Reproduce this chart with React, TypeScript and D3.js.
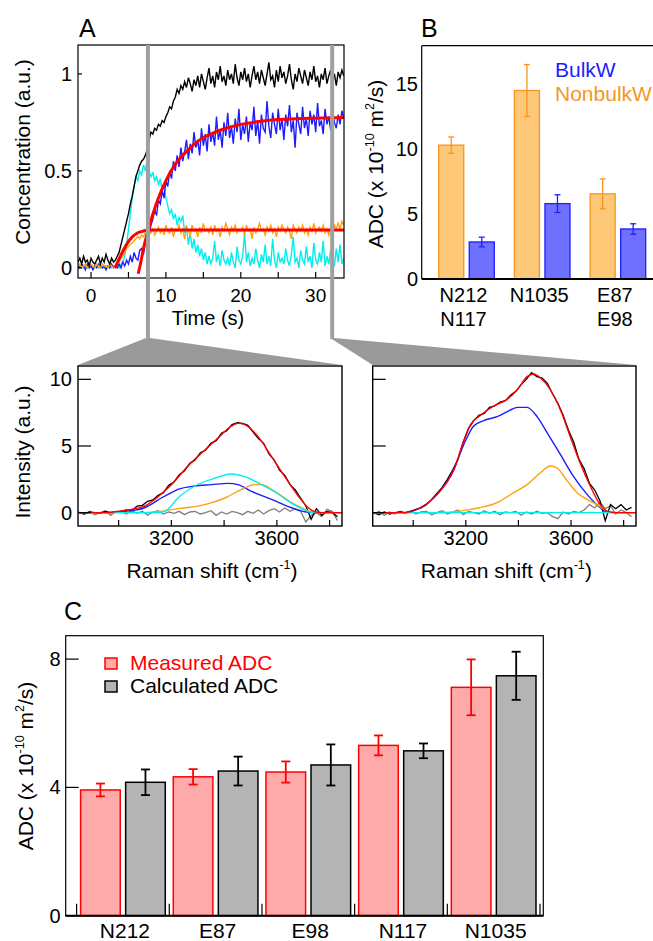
import React, { useEffect, useRef } from 'react';
import * as d3 from 'd3';

const FONT = 'Liberation Sans, Arial, Helvetica, sans-serif';

// ---------- A: concentration time courses (sampled every 0.25 s from -1.75 s)
const TIME_START = -1.75;
const TIME_STEP = 0.25;
const totalConc = [
  0.03, 0.05, 0.02, 0.06, 0.03, 0.04, 0.01, 0.05, 0.03, 0.02,
  0.04, 0.06, 0.02, 0.05, 0.03, 0.07, 0.04, 0.02, 0.05, 0.03,
  0.04, 0.06, 0.08, 0.12, 0.16, 0.2, 0.24, 0.28, 0.33, 0.37,
  0.42, 0.47, 0.5, 0.53, 0.55, 0.56, 0.58, 0.61, 0.66, 0.7,
  0.69, 0.72, 0.71, 0.74, 0.73, 0.76, 0.75, 0.78, 0.8, 0.83,
  0.82, 0.86, 0.88, 0.92, 0.9, 0.94, 0.92, 0.96, 0.93, 0.98,
  0.95, 0.91, 0.97, 0.94, 0.99, 0.93, 1.0, 0.96, 0.92, 0.98,
  1.03, 0.95, 0.99, 0.93, 1.01, 0.97, 1.04, 0.96, 0.99, 0.94,
  1.02, 0.97, 1.0, 0.95, 1.05, 0.98, 0.94, 1.01, 0.97, 1.03,
  0.96, 1.0, 0.93, 0.99, 1.04, 0.97, 1.01, 0.95, 1.02, 0.98,
  0.94, 1.0, 1.06, 0.97, 0.99, 0.93, 1.02, 0.96, 1.04, 0.98,
  1.01, 0.95, 0.99, 1.05, 0.97, 0.92, 1.0, 0.96, 1.03, 0.99,
  0.95, 1.02, 0.98, 0.94, 1.01, 0.97, 1.04, 0.96, 0.99, 0.93,
  1.0, 0.97, 1.03, 0.95, 0.99, 1.02, 0.96, 1.0, 0.94, 1.01,
  0.98, 1.02, 0.99
];
const bulkConc = [
  0.01, 0.0, 0.02, 0.01, -0.01, 0.02, 0.0, 0.01, -0.01, 0.01,
  0.0, 0.02, 0.01, 0.0, 0.01, -0.01, 0.01, 0.0, 0.02, 0.0,
  0.01, 0.0, 0.02, 0.0, 0.03, 0.01, 0.04, 0.02, 0.06, 0.03,
  0.08, 0.05, 0.04, 0.09, 0.1, 0.07, 0.13, 0.12, 0.17, 0.22,
  0.25, 0.3, 0.27, 0.35, 0.33, 0.4, 0.36, 0.45, 0.42, 0.5,
  0.46, 0.55, 0.5, 0.58, 0.52, 0.62, 0.55, 0.6, 0.66, 0.56,
  0.64, 0.59, 0.7, 0.62, 0.66, 0.58, 0.72, 0.63, 0.69, 0.6,
  0.74, 0.65, 0.7, 0.63, 0.78, 0.66, 0.71, 0.62, 0.75, 0.68,
  0.8, 0.67, 0.73, 0.64, 0.77, 0.7, 0.82, 0.66, 0.74, 0.69,
  0.78, 0.65, 0.75, 0.71, 0.83, 0.68, 0.76, 0.64, 0.79, 0.72,
  0.7, 0.86, 0.73, 0.67, 0.8, 0.74, 0.69, 0.82, 0.71, 0.77,
  0.66, 0.79, 0.73, 0.84, 0.7, 0.76, 0.62, 0.8, 0.74, 0.69,
  0.83, 0.72, 0.77, 0.68, 0.81, 0.74, 0.79, 0.7, 0.85, 0.73,
  0.76, 0.69, 0.82, 0.74, 0.78, 0.71, 0.8, 0.75, 0.72, 0.79,
  0.74, 0.81, 0.77
];
const transientConc = [
  0.0, 0.01, 0.0, 0.0, 0.01, 0.0, 0.0, 0.01, 0.0, 0.0,
  0.01, 0.0, 0.0, 0.01, 0.0, 0.0, 0.01, 0.0, 0.0, 0.01,
  0.0, 0.01, 0.0, 0.02, 0.03, 0.06, 0.12, 0.2, 0.28, 0.36,
  0.42, 0.47, 0.45, 0.5, 0.48, 0.53, 0.5, 0.56, 0.5, 0.47,
  0.49, 0.45, 0.47, 0.43, 0.46, 0.4, 0.42, 0.36, 0.32, 0.28,
  0.3, 0.25, 0.28, 0.22, 0.26, 0.24, 0.27, 0.18, 0.22, 0.12,
  0.18, 0.1, 0.15, 0.08, 0.12, 0.06, 0.1, 0.04, 0.08, 0.02,
  0.06, 0.02, 0.05, 0.14, 0.03, 0.07, 0.01, 0.09, 0.04, 0.02,
  0.05, 0.01, 0.08, 0.03, 0.0, 0.11, 0.04, 0.02, 0.06, 0.18,
  0.03, 0.08, 0.01, 0.05, 0.02, 0.1, 0.04, 0.0, 0.07, 0.03,
  0.12, 0.02, 0.06, 0.01, 0.15, 0.04, 0.0, 0.08, 0.03, 0.05,
  0.02, 0.1, 0.04, 0.01, 0.07, 0.16, 0.03, 0.05, 0.0, 0.09,
  0.04, 0.02, 0.11, 0.03, 0.06, 0.0, 0.13, 0.04, 0.02, 0.08,
  0.03, 0.14, 0.01, 0.06, 0.02, 0.09, 0.04, 0.01, 0.1, 0.03,
  0.12, 0.02, 0.05
];
const nonbulkConc = [
  0.01, 0.02, 0.0, 0.01, 0.02, 0.0, 0.01, 0.02, 0.01, 0.0,
  0.02, 0.01, 0.0, 0.02, 0.01, 0.01, 0.0, 0.02, 0.01, 0.0,
  0.01, 0.02, 0.03, 0.05, 0.06, 0.08, 0.1, 0.11, 0.12, 0.13,
  0.14, 0.15, 0.16, 0.15, 0.17, 0.16, 0.18, 0.17, 0.19, 0.18,
  0.2, 0.17, 0.19, 0.21, 0.18, 0.2, 0.17, 0.22, 0.19, 0.18,
  0.21, 0.16, 0.2, 0.19, 0.22, 0.18, 0.2, 0.15, 0.21, 0.19,
  0.17, 0.22, 0.19, 0.2, 0.16, 0.21, 0.18, 0.23, 0.19, 0.2,
  0.18, 0.21, 0.17, 0.22, 0.19, 0.2, 0.16, 0.21, 0.19, 0.23,
  0.2, 0.17, 0.21, 0.19, 0.22, 0.18, 0.2, 0.19, 0.21, 0.17,
  0.22, 0.19, 0.2, 0.15, 0.21, 0.18, 0.2, 0.23, 0.19, 0.2,
  0.17, 0.21, 0.19, 0.22, 0.18, 0.2, 0.16, 0.21, 0.19, 0.22,
  0.2, 0.18, 0.21, 0.19, 0.15, 0.22, 0.2, 0.18, 0.21, 0.19,
  0.22, 0.18, 0.2, 0.17, 0.21, 0.19, 0.23, 0.18, 0.2, 0.21,
  0.19, 0.22, 0.18, 0.2, 0.17, 0.21, 0.19, 0.22, 0.2, 0.23,
  0.2, 0.24, 0.22
];
// fitted curves [time, conc]
const bulkFit = [
  [6.3, -0.03], [6.6, 0.02], [7.0, 0.1], [7.6, 0.19], [8.2, 0.27], [9, 0.36],
  [10, 0.45], [11, 0.52], [12, 0.57], [13, 0.61], [14.5, 0.66], [16, 0.69],
  [18, 0.72], [20, 0.74], [22.5, 0.755], [25, 0.765], [28, 0.77], [31, 0.773], [33.8, 0.775]
];
const nonbulkFit = [
  [3.2, 0.0], [3.8, 0.05], [4.3, 0.09], [4.9, 0.13], [5.5, 0.16], [6.2, 0.18],
  [7.0, 0.19], [7.6, 0.195], [12, 0.195], [20, 0.195], [33.8, 0.195]
];
// times at which the two spectra below were taken
const spectrumTimes = [7.6, 32.2];

// ---------- B: ADC of water types
const groupLabels = [['N212', 'N117'], ['N1035'], ['E87', 'E98']];
const nonbulkADC = [10.3, 14.5, 6.55];
const nonbulkErr = [0.63, 2.0, 1.15];
const bulkADC = [2.85, 5.8, 3.85];
const bulkErr = [0.37, 0.68, 0.4];

// ---------- Raman spectra (raw & residual every 20 cm-1 from 2850)
const SHIFT_START = 2850;
const SHIFT_STEP = 20;
const spec1Raw = [
  0.0, -0.1, 0.05, 0.0, -0.05, 0.1, 0.0, 0.05, 0.1, 0.2,
  0.15, 0.5, 0.55, 0.85, 0.95, 1.3, 1.5, 2.05, 2.3, 2.85,
  3.15, 3.7, 3.95, 4.5, 4.7, 5.2, 5.4, 5.95, 6.15, 6.6,
  6.75, 6.7, 6.55, 6.05, 5.55, 5.2, 4.4, 3.95, 3.2, 2.8,
  2.1, 1.7, 1.1, 0.5, -0.5, 0.3, -0.2, 0.1, 0.0, -0.3
];
const spec1Resid = [
  0.05, -0.1, 0.1, -0.15, 0.0, 0.15, -0.2, 0.1, 0.05, -0.1,
  0.15, -0.05, 0.1, -0.2, 0.05, 0.15, -0.1, 0.05, -0.05, 0.1,
  -0.15, 0.05, 0.1, -0.1, 0.0, 0.15, -0.2, 0.05, -0.1, 0.1,
  0.0, -0.15, 0.1, -0.05, 0.2, -0.1, 0.15, 0.3, 0.05, 0.35,
  0.1, 0.3, 0.1, -0.7, -0.2, 0.0, -0.3, 0.25, 0.1, -0.6
];
const spec1Fit = [
  [2850, 0], [2950, 0], [2990, 0.08], [3030, 0.18], [3070, 0.33], [3100, 0.5],
  [3137, 1.0], [3170, 1.55], [3200, 2.1], [3263, 3.5], [3327, 4.7], [3377, 5.6],
  [3428, 6.5], [3453, 6.7], [3478, 6.6], [3529, 5.7], [3580, 4.2], [3630, 2.7],
  [3681, 1.25], [3719, 0.37], [3744, 0.07], [3770, 0], [3847, 0]
];
const spec1Bulk = [
  [2850, 0], [2950, 0], [2997, 0.05], [3050, 0.15], [3099, 0.37], [3130, 0.7],
  [3162, 1.1], [3195, 1.45], [3225, 1.74], [3289, 2.0], [3352, 2.1], [3415, 2.2],
  [3453, 2.1], [3504, 1.6], [3580, 1.0], [3656, 0.37], [3706, 0.07], [3750, 0], [3847, 0]
];
const spec1Transient = [
  [2850, 0], [3150, 0], [3162, 0.02], [3187, 0.25], [3225, 1.1], [3289, 2.0],
  [3352, 2.5], [3428, 2.9], [3478, 2.7], [3542, 2.1], [3605, 1.4], [3656, 0.7],
  [3706, 0.2], [3732, 0.02], [3847, 0]
];
const spec1Nonbulk = [
  [2850, 0], [3099, 0], [3160, 0.1], [3225, 0.3], [3327, 0.6], [3403, 1.1],
  [3466, 1.74], [3516, 2.1], [3542, 2.1], [3592, 1.6], [3656, 0.75], [3706, 0.25],
  [3757, 0], [3847, 0]
];
const spec2Raw = [
  0.0, -0.15, 0.05, -0.1, 0.0, 0.05, 0.0, 0.1, 0.25, 0.35,
  0.6, 1.0, 1.45, 1.9, 2.5, 3.2, 4.0, 5.3, 6.3, 6.9,
  7.3, 7.45, 7.9, 8.0, 8.3, 8.4, 8.8, 9.1, 9.6, 10.0,
  10.5, 10.2, 10.1, 9.7, 8.9, 8.2, 7.3, 6.2, 5.3, 4.0,
  3.3, 2.2, 1.7, 0.9, -0.6, 0.6, 0.3, 0.6, 0.2, 0.4
];
const spec2Resid = [
  -0.1, 0.1, -0.2, 0.05, -0.1, 0.1, -0.05, 0.15, -0.1, 0.05,
  0.1, -0.15, 0.0, 0.15, -0.1, 0.05, 0.2, -0.15, 0.1, 0.0,
  -0.1, 0.15, -0.05, 0.1, -0.15, 0.05, 0.0, 0.1, -0.2, 0.05,
  -0.1, 0.1, -0.05, 0.0, -0.3, -0.45, 0.05, -0.1, 0.1, 0.0,
  0.2, 0.6, 0.35, 0.8, 0.3, 0.5, -0.1, 0.2, 0.0, -0.3
];
const spec2Fit = [
  [2850, 0], [2965, 0], [3028, 0.37], [3091, 1.37], [3154, 3.2], [3192, 5.35],
  [3218, 6.6], [3256, 7.3], [3306, 8.0], [3357, 8.5], [3395, 9.2], [3433, 10.2],
  [3458, 10.4], [3484, 10.1], [3522, 9.2], [3560, 7.7], [3597, 5.7], [3635, 3.7],
  [3673, 2.0], [3711, 0.6], [3737, 0.12], [3775, 0], [3847, 0]
];
const spec2Bulk = [
  [2850, 0], [2965, 0], [3028, 0.37], [3091, 1.37], [3154, 3.2], [3192, 5.1],
  [3230, 6.5], [3268, 6.9], [3319, 7.2], [3370, 7.7], [3395, 7.9], [3433, 7.9],
  [3471, 7.2], [3509, 6.0], [3560, 4.35], [3610, 2.7], [3661, 1.37], [3711, 0.37],
  [3737, 0.05], [3775, 0], [3847, 0]
];
const spec2Transient = [[2850, 0], [3847, 0]];
const spec2Nonbulk = [
  [2850, 0], [3091, 0], [3218, 0.25], [3319, 0.75], [3382, 1.5], [3433, 2.1],
  [3484, 3.0], [3522, 3.5], [3547, 3.35], [3585, 2.4], [3623, 1.5], [3661, 1.0],
  [3699, 0.6], [3737, 0.12], [3775, 0], [3847, 0]
];

// ---------- C: measured vs calculated ADC
const residues = ['N212', 'E87', 'E98', 'N117', 'N1035'];
const measuredADC = [3.92, 4.33, 4.48, 5.31, 7.12];
const measuredErr = [0.2, 0.24, 0.33, 0.31, 0.87];
const calculatedADC = [4.16, 4.51, 4.7, 5.14, 7.48];
const calculatedErr = [0.4, 0.45, 0.64, 0.23, 0.75];

const C_BLACK = '#000000';
const C_BLUE = '#1c1cff';
const C_CYAN = '#00eeee';
const C_ORANGE = '#ffa10a';
const C_RED = '#ff0000';
const C_GRAY_CUT = '#a0a0a0';

// text with superscript pieces: parts = [[text, isSup], ...]
function richText(sel, parts, size) {
  let prevSup = false;
  parts.forEach(([txt, sup]) => {
    const ts = sel.append('tspan').text(txt);
    if (sup) ts.style('font-size', (size * 0.6) + 'px');
    if (sup !== prevSup) ts.attr('dy', sup ? -size * 0.42 : size * 0.42);
    prevSup = sup;
  });
}

function label(svg, x, y, txt, size, anchor = 'middle', color = '#000') {
  return svg.append('text')
    .attr('x', x).attr('y', y)
    .attr('text-anchor', anchor)
    .style('font-size', size + 'px')
    .attr('fill', color)
    .text(txt);
}

function yTitle(svg, x, y, parts, size) {
  const t = svg.append('text')
    .attr('transform', 'translate(' + x + ',' + y + ') rotate(-90)')
    .attr('text-anchor', 'middle')
    .style('font-size', size + 'px');
  richText(t, parts, size);
}

function drawTimeCourse(svg) {
  const L = 78, R = 344, T = 45, B = 278;
  const x = d3.scaleLinear().domain([-1.74, 33.78]).range([L, R]);
  const y = d3.scaleLinear().domain([-0.052, 1.149]).range([B, T]);

  svg.append('clipPath').attr('id', 'clipA')
    .append('rect').attr('x', L).attr('y', T).attr('width', R - L).attr('height', B - T);
  const plot = svg.append('g').attr('clip-path', 'url(#clipA)');

  const trace = d3.line().x((d, i) => x(TIME_START + i * TIME_STEP)).y(d => y(d));
  const traces = [
    [transientConc, C_CYAN],
    [bulkConc, C_BLUE],
    [nonbulkConc, C_ORANGE],
    [totalConc, C_BLACK]
  ];
  traces.forEach(([data, color]) => {
    plot.append('path').datum(data)
      .attr('d', trace)
      .attr('fill', 'none')
      .attr('stroke', color)
      .attr('stroke-width', 1.4);
  });
  const fit = d3.line().x(d => x(d[0])).y(d => y(d[1])).curve(d3.curveMonotoneX);
  [bulkFit, nonbulkFit].forEach(data => {
    plot.append('path').datum(data)
      .attr('d', fit)
      .attr('fill', 'none')
      .attr('stroke', C_RED)
      .attr('stroke-width', 3);
  });

  svg.append('rect').attr('x', L).attr('y', T).attr('width', R - L).attr('height', B - T)
    .attr('fill', 'none').attr('stroke', '#000').attr('stroke-width', 1.2);

  d3.range(0, 31, 5).forEach(t => {
    svg.append('line').attr('x1', x(t)).attr('x2', x(t)).attr('y1', B).attr('y2', B - 6)
      .attr('stroke', '#000').attr('stroke-width', 1.2);
  });
  [0, 10, 20, 30].forEach(t => label(svg, x(t), 302, String(t), 19));
  [0, 0.5, 1].forEach(v => {
    svg.append('line').attr('x1', L).attr('x2', L + 4).attr('y1', y(v)).attr('y2', y(v))
      .attr('stroke', '#000').attr('stroke-width', 1.2);
    label(svg, 72, y(v) + 7, String(v), 20, 'end');
  });
  label(svg, 208, 325, 'Time (s)', 20);
  yTitle(svg, 30, 152, [['Concentration (a.u.)', false]], 21);
  label(svg, 79, 37, 'A', 25, 'start');
  return x;
}

function drawWaterADC(svg) {
  const L = 421.7, T = 45.7, B = 279;
  const y = d3.scaleLinear().domain([0, 17.95]).range([B, T]);
  const x0 = d3.scaleBand().domain(d3.range(groupLabels.length)).range([438.7, 645.7]).paddingInner(0.266);
  const x1 = d3.scaleBand().domain(['nonbulk', 'bulk']).range([0, x0.bandwidth()]).paddingInner(0.18);

  svg.append('line').attr('x1', L).attr('x2', 660).attr('y1', T).attr('y2', T)
    .attr('stroke', '#000').attr('stroke-width', 1.2);
  svg.append('line').attr('x1', L).attr('x2', L).attr('y1', T).attr('y2', B)
    .attr('stroke', '#000').attr('stroke-width', 1.2);

  const series = [
    { key: 'nonbulk', vals: nonbulkADC, errs: nonbulkErr, fill: '#ffc878', stroke: '#f5961e' },
    { key: 'bulk', vals: bulkADC, errs: bulkErr, fill: '#7070ff', stroke: '#1e1eff' }
  ];
  series.forEach(s => {
    const g = svg.append('g');
    g.selectAll('rect').data(s.vals).enter().append('rect')
      .attr('x', (d, i) => x0(i) + x1(s.key))
      .attr('y', d => y(d))
      .attr('width', x1.bandwidth())
      .attr('height', d => B - y(d))
      .attr('fill', s.fill)
      .attr('stroke', s.stroke)
      .attr('stroke-width', 1.3);
    s.vals.forEach((v, i) => {
      const cx = x0(i) + x1(s.key) + x1.bandwidth() / 2;
      const e = s.errs[i];
      g.append('line').attr('x1', cx).attr('x2', cx).attr('y1', y(v - e)).attr('y2', y(v + e))
        .attr('stroke', s.stroke).attr('stroke-width', 1.3);
      [v - e, v + e].forEach(c => {
        g.append('line').attr('x1', cx - 3).attr('x2', cx + 3).attr('y1', y(c)).attr('y2', y(c))
          .attr('stroke', s.stroke).attr('stroke-width', 1.3);
      });
    });
  });
  svg.append('line').attr('x1', L).attr('x2', 660).attr('y1', B).attr('y2', B)
    .attr('stroke', '#000').attr('stroke-width', 2);

  [0, 5, 10, 15].forEach(v => label(svg, 418, y(v) + 7, String(v), 20, 'end'));
  groupLabels.forEach((lines, i) => {
    const cx = x0(i) + x0.bandwidth() / 2 - 3;
    lines.forEach((t, j) => label(svg, cx, 302 + j * 23.5, t, 20));
  });
  label(svg, 555, 77, 'BulkW', 21, 'start', '#1e1eff');
  label(svg, 555, 101, 'NonbulkW', 21, 'start', '#f5961e');
  yTitle(svg, 383, 164, [['ADC (x 10', false], ['-10', true], [' m', false], ['2', true], ['/s)', false]], 21);
  label(svg, 421, 37, 'B', 25, 'start');
}

function drawSpectrum(svg, id, L, R, raw, resid, fitC, bulkC, transC, nonbulkC, showY) {
  const T = 366, B = 526;
  const x = d3.scaleLinear().domain([2846, 3847]).range([L, R]);
  const y = d3.scaleLinear().domain([-1, 11]).range([B, T]);

  svg.append('clipPath').attr('id', id)
    .append('rect').attr('x', L).attr('y', T).attr('width', R - L).attr('height', B - T);
  const plot = svg.append('g').attr('clip-path', 'url(#' + id + ')');

  const sampled = d3.line().x((d, i) => x(SHIFT_START + i * SHIFT_STEP)).y(d => y(d));
  const smooth = d3.line().x(d => x(d[0])).y(d => y(d[1])).curve(d3.curveMonotoneX);

  plot.append('path').datum(resid).attr('d', sampled)
    .attr('fill', 'none').attr('stroke', '#808080').attr('stroke-width', 1.3);
  plot.append('path').datum(raw).attr('d', sampled)
    .attr('fill', 'none').attr('stroke', C_BLACK).attr('stroke-width', 1.3);
  [[bulkC, C_BLUE], [nonbulkC, C_ORANGE], [transC, C_CYAN], [fitC, C_RED]].forEach(([data, color]) => {
    plot.append('path').datum(data).attr('d', smooth)
      .attr('fill', 'none').attr('stroke', color).attr('stroke-width', 1.4);
  });

  svg.append('rect').attr('x', L).attr('y', T).attr('width', R - L).attr('height', B - T)
    .attr('fill', 'none').attr('stroke', '#000').attr('stroke-width', 1.4);

  [0, 5, 10].forEach(v => {
    svg.append('line').attr('x1', L).attr('x2', L + 13).attr('y1', y(v)).attr('y2', y(v))
      .attr('stroke', '#000').attr('stroke-width', 1.2);
    if (showY) label(svg, 72, y(v) + 7, String(v), 20, 'end');
  });
  d3.range(3000, 3801, 200).forEach(v => {
    svg.append('line').attr('x1', x(v)).attr('x2', x(v)).attr('y1', B).attr('y2', B - 6)
      .attr('stroke', '#000').attr('stroke-width', 1.2);
  });
  [3200, 3600].forEach(v => label(svg, x(v), 545, String(v), 20));
  const t = svg.append('text')
    .attr('x', (L + R) / 2 + 2).attr('y', 578)
    .attr('text-anchor', 'middle')
    .style('font-size', '21px');
  richText(t, [['Raman shift (cm', false], ['-1', true], [')', false]], 21);
  if (showY) yTitle(svg, 30, 452, [['Intensity (a.u.)', false]], 21);
  return { L, R, T };
}

function drawADCComparison(svg) {
  const L = 65.7, R = 543.3, T = 635.7, B = 915.7;
  const y = d3.scaleLinear().domain([0, 8.73]).range([B, T]);
  const x0 = d3.scaleBand().domain(residues).range([76.6, 540]);
  const x1 = d3.scaleBand().domain(['measured', 'calculated']).range([4, x0.bandwidth() - 4]).paddingInner(0.12);

  svg.append('rect').attr('x', L).attr('y', T).attr('width', R - L).attr('height', B - T)
    .attr('fill', 'none').attr('stroke', '#000').attr('stroke-width', 1.2);

  const series = [
    { key: 'measured', vals: measuredADC, errs: measuredErr, fill: '#ffaaaa', stroke: '#ff0000' },
    { key: 'calculated', vals: calculatedADC, errs: calculatedErr, fill: '#b4b4b4', stroke: '#000000' }
  ];
  series.forEach(s => {
    const g = svg.append('g');
    g.selectAll('rect').data(s.vals).enter().append('rect')
      .attr('x', (d, i) => x0(residues[i]) + x1(s.key))
      .attr('y', d => y(d))
      .attr('width', x1.bandwidth())
      .attr('height', d => B - y(d))
      .attr('fill', s.fill)
      .attr('stroke', s.stroke)
      .attr('stroke-width', 1.5);
    s.vals.forEach((v, i) => {
      const cx = x0(residues[i]) + x1(s.key) + x1.bandwidth() / 2;
      const e = s.errs[i];
      g.append('line').attr('x1', cx).attr('x2', cx).attr('y1', y(v - e)).attr('y2', y(v + e))
        .attr('stroke', s.stroke).attr('stroke-width', 1.8);
      [v - e, v + e].forEach(c => {
        g.append('line').attr('x1', cx - 4.5).attr('x2', cx + 4.5).attr('y1', y(c)).attr('y2', y(c))
          .attr('stroke', s.stroke).attr('stroke-width', 1.8);
      });
    });
  });
  svg.append('line').attr('x1', L).attr('x2', R).attr('y1', B).attr('y2', B)
    .attr('stroke', '#000').attr('stroke-width', 2);

  // tick marks at category boundaries
  residues.concat(['end']).forEach((r, i) => {
    const bx = 76.6 + i * x0.step();
    svg.append('line').attr('x1', bx).attr('x2', bx).attr('y1', B).attr('y2', B - 12)
      .attr('stroke', '#000').attr('stroke-width', 1.2);
  });
  [0, 4, 8].forEach(v => {
    svg.append('line').attr('x1', L).attr('x2', L + 13).attr('y1', y(v)).attr('y2', y(v))
      .attr('stroke', '#000').attr('stroke-width', 1.2);
    label(svg, 60.7, y(v) + 7, String(v), 20, 'end');
  });
  residues.forEach(r => label(svg, x0(r) + x0.bandwidth() / 2 + 2, 938, r, 21));

  // legend
  const items = [
    ['Measured ADC', '#ffaaaa', '#ff0000', '#ff0000'],
    ['Calculated ADC', '#b4b4b4', '#000000', '#000000']
  ];
  items.forEach(([txt, fill, stroke, tc], i) => {
    svg.append('rect').attr('x', 105).attr('y', 658 + i * 23).attr('width', 12).attr('height', 11)
      .attr('fill', fill).attr('stroke', stroke).attr('stroke-width', 1.5);
    label(svg, 130, 670 + i * 23, txt, 21, 'start', tc);
  });
  yTitle(svg, 33, 766, [['ADC (x 10', false], ['-10', true], [' m', false], ['2', true], ['/s)', false]], 21);
  label(svg, 64, 620, 'C', 25, 'start');
}

function drawCuts(svg, xTime, boxes) {
  spectrumTimes.forEach((t, i) => {
    const cx = xTime(t);
    const b = boxes[i];
    svg.append('path')
      .attr('d', 'M' + (cx - 2) + ',338 L' + (cx + 2) + ',338 L' + b.R + ',' + (b.T - 1) + ' L' + b.L + ',' + (b.T - 1) + 'Z')
      .attr('fill', '#9a9a9a');
    svg.append('line').attr('x1', cx).attr('x2', cx).attr('y1', 45).attr('y2', 339)
      .attr('stroke', C_GRAY_CUT).attr('stroke-width', 4);
  });
}

const App = () => {
  const ref = useRef(null);
  useEffect(() => {
    const svg = d3.select(ref.current);
    svg.selectAll('*').remove();
    const xTime = drawTimeCourse(svg);
    drawWaterADC(svg);
    const b1 = drawSpectrum(svg, 'clipS1', 78, 342, spec1Raw, spec1Resid, spec1Fit, spec1Bulk, spec1Transient, spec1Nonbulk, true);
    const b2 = drawSpectrum(svg, 'clipS2', 372.7, 636, spec2Raw, spec2Resid, spec2Fit, spec2Bulk, spec2Transient, spec2Nonbulk, false);
    drawCuts(svg, xTime, [b1, b2]);
    drawADCComparison(svg);
  }, []);
  return (
    <svg
      ref={ref}
      width={653}
      height={941}
      style={{ position: 'absolute', left: 0, top: 0, background: '#fff', fontFamily: FONT }}
    />
  );
};

export default App;
